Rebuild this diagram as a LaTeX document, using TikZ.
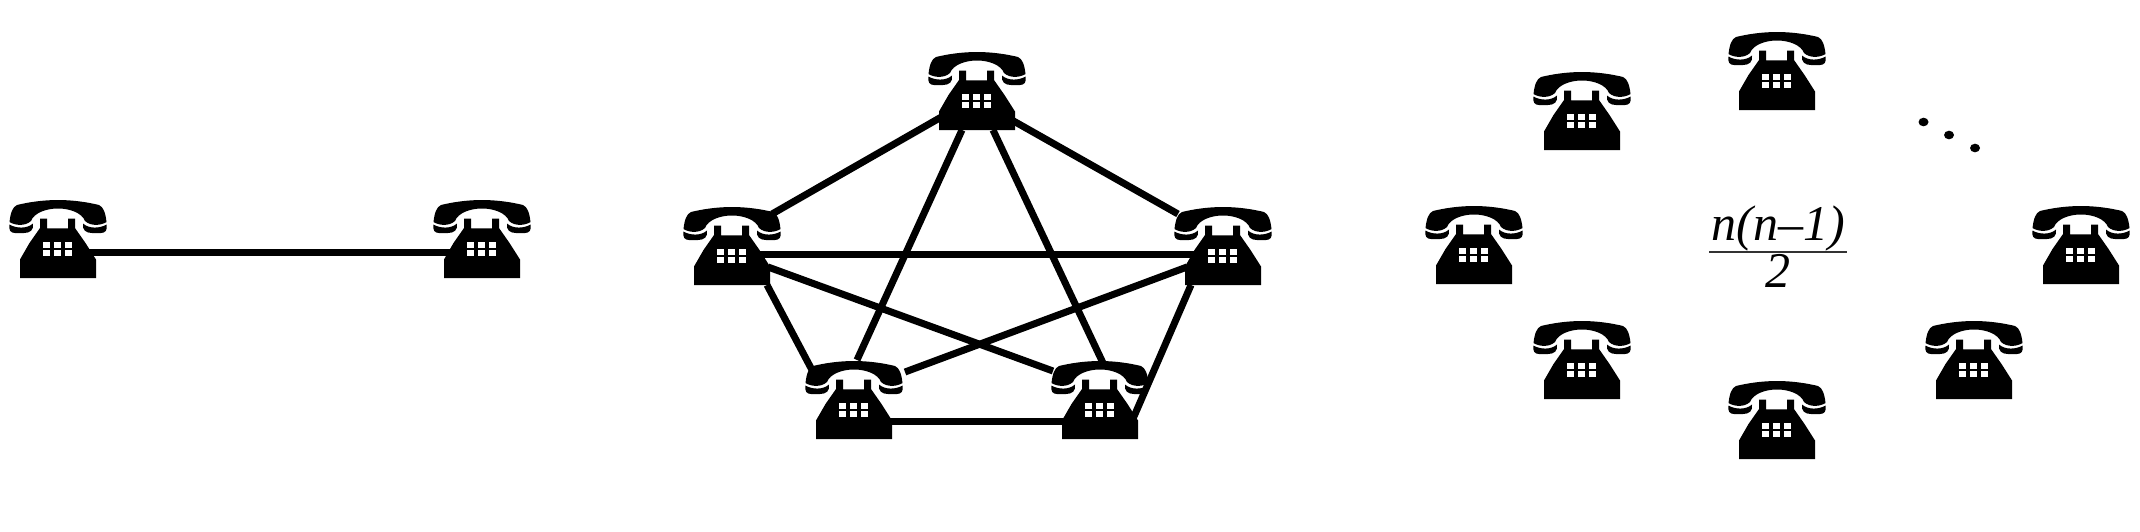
\documentclass[tikz,border=0pt]{standalone}
\usepackage{fontspec}
\setmainfont{Liberation Serif}
\tikzset{
  wire/.style={line width=3.5pt,black},
  phonebox/.style={inner sep=0pt,outer sep=0pt,minimum width=48.5pt,minimum height=39pt},
  formula/.style={font=\fontsize{25}{29}\selectfont\itshape,inner sep=0pt,anchor=base},
  dotmark/.style={fill=black,draw=none},
  phone/.pic={
    \fill[black] (-38,39) -- (-38,20.5) -- (-28.5,4) -- (-18,-11) -- (-18,-20.5) -- (-11,-20.5) -- (-11,-10.7)
      -- (10,-10.7) -- (10,-20.5) -- (17,-20.5) -- (17,-11) -- (27.5,4) -- (38,20.5) -- (38,39) -- cycle;
    \foreach \s in {-1,1}{
      \begin{scope}[xscale=\s]
        \fill[black] (0.2,-39) .. controls (14,-39) and (29,-37) .. (41,-34)
          .. controls (45.5,-32) and (47.5,-26) .. (48.5,-17)
          .. controls (43,-13.5) and (33,-12.5) .. (27,-18)
          .. controls (24,-26) and (12,-30.5) .. (0.2,-30.5) -- cycle;
        \fill[black] (48.5,-14.5) .. controls (42,-10.5) and (31,-10) .. (25,-15.5)
          .. controls (24,-9) and (28,-6) .. (34,-6)
          -- (43,-6) .. controls (47.5,-6) and (49.5,-9) .. (48.5,-14.5) -- cycle;
      \end{scope}
    }
    \foreach \kx in {-12,-0.7,10.7}{
      \foreach \ky in {5.8,14}{
        \fill[white] (\kx-3.5,\ky-2.7) rectangle (\kx+3.5,\ky+2.7);
      }
    }
  }
}
\newcommand{\phoneat}[2]{\node[phonebox] (#1) at (#2) {}; \pic at (#1) {phone};}
\newcommand{\wirebetween}[6]{\draw[wire] ([shift={(#2,#3)}]#1.center) -- ([shift={(#5,#6)}]#4.center);}
\begin{document}
\begin{tikzpicture}[x=0.5pt,y=-0.5pt]
\useasboundingbox (0,0) rectangle (2140,531);
\fill[white] (0,0) rectangle (2140,531);
% pair
\phoneat{pa}{58,239}
\phoneat{pb}{482,239}
% full mesh
\phoneat{mt}{977,91}
\phoneat{ml}{732,246}
\phoneat{mr}{1223,246}
\phoneat{mbl}{854,400}
\phoneat{mbr}{1100,400}
% ring
\phoneat{ra}{1777,71}
\phoneat{rb}{1582,111}
\phoneat{rc}{1474,245}
\phoneat{rd}{2081,245}
\phoneat{re}{1582,360}
\phoneat{rf}{1974,360}
\phoneat{rg}{1777,420}
% connectors
\wirebetween{pa}{25}{13}{pb}{-25}{13}
\wirebetween{mt}{-33}{24.5}{ml}{40}{-32}
\wirebetween{mt}{33}{28}{mr}{-45}{-32}
\wirebetween{mt}{-15}{39}{mbl}{3}{-40}
\wirebetween{mt}{16}{39}{mbr}{3}{-37}
\wirebetween{ml}{28}{8}{mr}{-28}{8}
\wirebetween{ml}{36}{21}{mbr}{-47}{-29}
\wirebetween{mr}{-36}{21}{mbl}{51}{-28}
\wirebetween{ml}{35}{39}{mbl}{-42}{-30}
\wirebetween{mr}{-32}{39}{mbr}{32}{21}
\wirebetween{mbl}{35}{21.6}{mbr}{-36}{21.6}
% formula
\node[formula] (num) at (1778,240) {n(n--1)};
\node[formula] (den) at (1778,287) {2};
\coordinate (barl) at (1709,252);
\coordinate (barr) at (1847,252);
\draw[line width=1.4pt,black!80] (barl) -- (barr);
% dots
\fill[dotmark] (1923.5,122) ellipse [x radius=5,y radius=4.3];
\fill[dotmark] (1949,135) ellipse [x radius=5,y radius=4.3];
\fill[dotmark] (1975,148) ellipse [x radius=5,y radius=4.3];
\end{tikzpicture}
\end{document}
